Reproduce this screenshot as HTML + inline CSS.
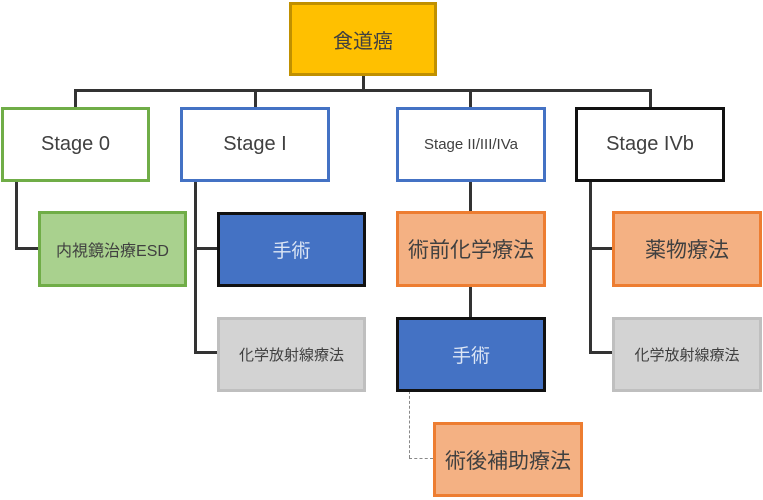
<!DOCTYPE html><html><head><meta charset="utf-8"><style>
body{margin:0;width:763px;height:500px;background:#fff;position:relative;overflow:hidden;font-family:"Liberation Sans","Noto Sans CJK JP",sans-serif}
.b{position:absolute;box-sizing:border-box;display:flex;align-items:center;justify-content:center;border:3px solid;color:#404040}
.l{position:absolute;background:#333}
</style></head><body>
<div class="l" style="left:74px;top:89px;width:578px;height:3px"></div>
<div class="l" style="left:362px;top:75px;width:3px;height:16px"></div>
<div class="l" style="left:74px;top:89px;width:3px;height:19px"></div>
<div class="l" style="left:254px;top:89px;width:3px;height:19px"></div>
<div class="l" style="left:469px;top:89px;width:3px;height:19px"></div>
<div class="l" style="left:649px;top:89px;width:3px;height:19px"></div>
<div class="l" style="left:15px;top:181px;width:3px;height:69px"></div>
<div class="l" style="left:15px;top:247px;width:24px;height:3px"></div>
<div class="l" style="left:194px;top:181px;width:3px;height:173px"></div>
<div class="l" style="left:194px;top:247px;width:24px;height:3px"></div>
<div class="l" style="left:194px;top:351px;width:24px;height:3px"></div>
<div class="l" style="left:469px;top:181px;width:3px;height:31px"></div>
<div class="l" style="left:469px;top:286px;width:3px;height:32px"></div>
<div class="l" style="left:589px;top:181px;width:3px;height:173px"></div>
<div class="l" style="left:589px;top:247px;width:24px;height:3px"></div>
<div class="l" style="left:589px;top:351px;width:24px;height:3px"></div>
<div style="position:absolute;left:409px;top:391px;width:0;height:67px;border-left:1px dashed #888"></div>
<div style="position:absolute;left:409px;top:458px;width:24px;height:0;border-top:1px dashed #888"></div>
<div class="b" style="left:289px;top:2px;width:148px;height:74px;background:#FFC000;border-color:#C09000;font-size:20px">食道癌</div>
<div class="b" style="left:1px;top:107px;width:149px;height:75px;background:#fff;border-color:#70AD47;font-size:20px">Stage 0</div>
<div class="b" style="left:180px;top:107px;width:150px;height:75px;background:#fff;border-color:#4472C4;font-size:20px">Stage I</div>
<div class="b" style="left:396px;top:107px;width:150px;height:75px;background:#fff;border-color:#4472C4;font-size:15px">Stage II/III/IVa</div>
<div class="b" style="left:575px;top:107px;width:150px;height:75px;background:#fff;border-color:#111;font-size:20px">Stage IVb</div>
<div class="b" style="left:38px;top:211px;width:149px;height:76px;background:#A9D18E;border-color:#70AD47;font-size:16px">内視鏡治療ESD</div>
<div class="b" style="left:217px;top:212px;width:149px;height:75px;background:#4472C4;border-color:#111;color:#dde6f5;font-size:19px">手術</div>
<div class="b" style="left:217px;top:317px;width:149px;height:75px;background:#D3D3D3;border-color:#BFBFBF;font-size:15px">化学放射線療法</div>
<div class="b" style="left:396px;top:211px;width:150px;height:76px;background:#F4B183;border-color:#ED7D31;font-size:21px">術前化学療法</div>
<div class="b" style="left:396px;top:317px;width:150px;height:75px;background:#4472C4;border-color:#111;color:#dde6f5;font-size:19px">手術</div>
<div class="b" style="left:433px;top:422px;width:150px;height:75px;background:#F4B183;border-color:#ED7D31;font-size:21px">術後補助療法</div>
<div class="b" style="left:612px;top:211px;width:150px;height:76px;background:#F4B183;border-color:#ED7D31;font-size:21px">薬物療法</div>
<div class="b" style="left:612px;top:317px;width:150px;height:75px;background:#D3D3D3;border-color:#BFBFBF;font-size:15px">化学放射線療法</div>
</body></html>
